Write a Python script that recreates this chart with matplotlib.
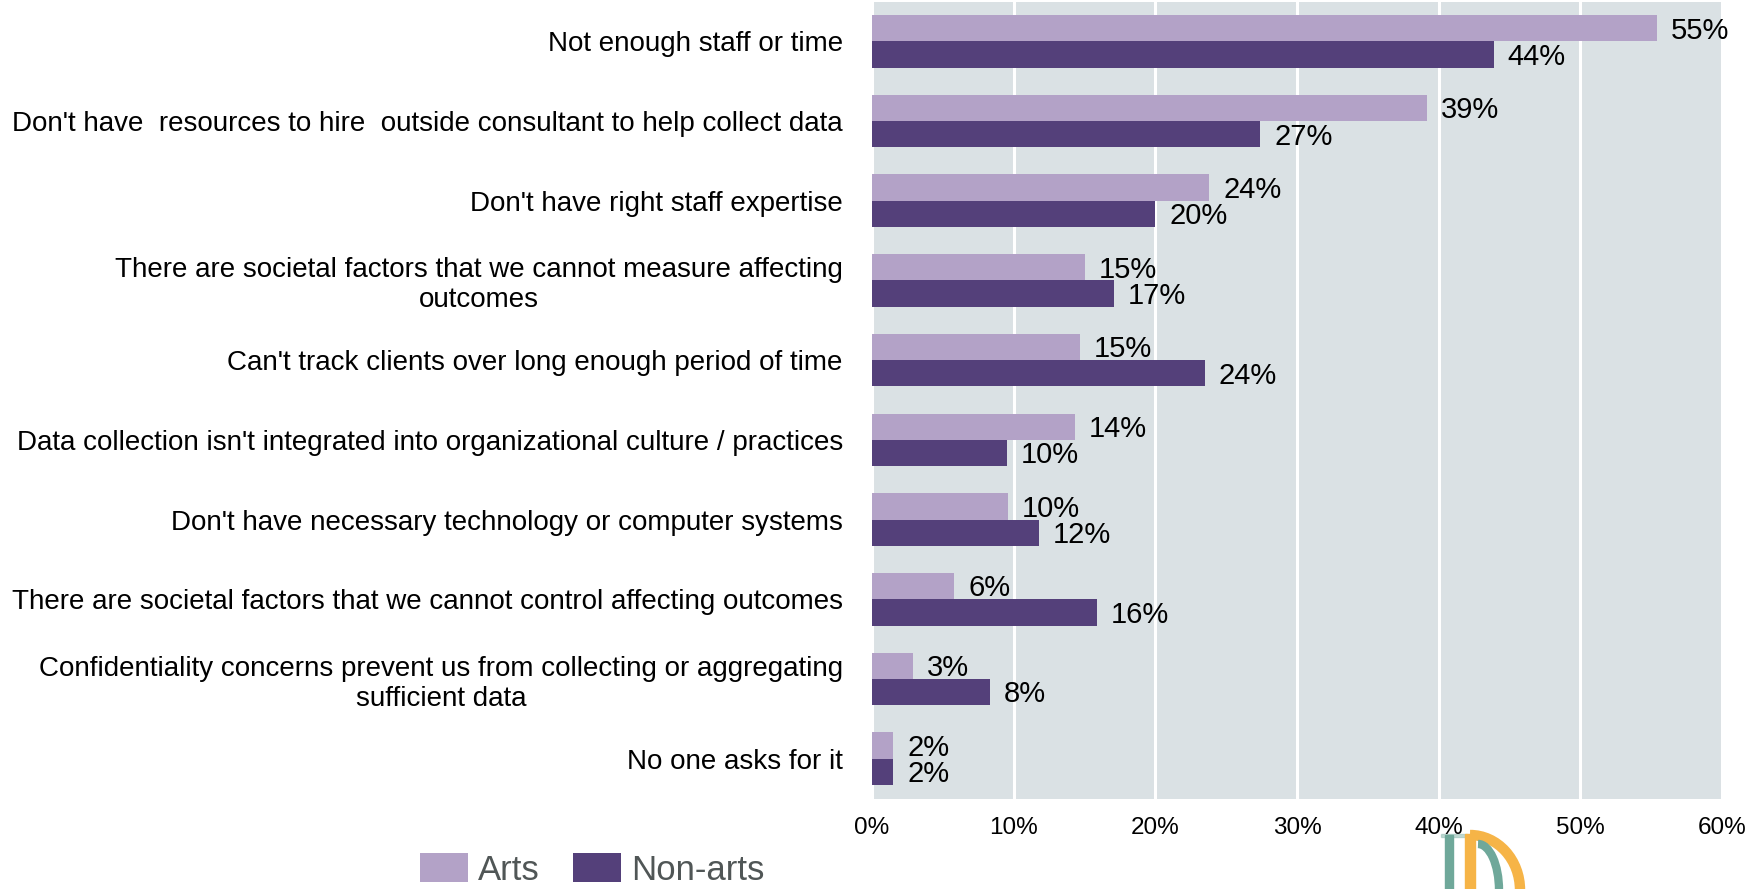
import matplotlib.pyplot as plt
import numpy as np
from matplotlib.patches import Patch, Arc, Rectangle

plt.rcParams['font.family'] = ['Liberation Sans', 'DejaVu Sans']

categories = [
    "Not enough staff or time",
    "Don't have  resources to hire  outside consultant to help collect data",
    "Don't have right staff expertise",
    "There are societal factors that we cannot measure affecting\noutcomes",
    "Can't track clients over long enough period of time",
    "Data collection isn't integrated into organizational culture / practices",
    "Don't have necessary technology or computer systems",
    "There are societal factors that we cannot control affecting outcomes",
    "Confidentiality concerns prevent us from collecting or aggregating\nsufficient data",
    "No one asks for it",
]
arts = [55.4, 39.2, 23.8, 15.0, 14.7, 14.3, 9.6, 5.8, 2.9, 1.5]
non_arts = [43.9, 27.4, 20.0, 17.1, 23.5, 9.5, 11.8, 15.9, 8.3, 1.5]
xticks = [0, 10, 20, 30, 40, 50, 60]

arts_color = '#b3a2c7'
non_color = '#54407a'

W, H = 1747, 889
fig = plt.figure(figsize=(W / 100, H / 100), dpi=100)
fig.set_facecolor('white')
ax = fig.add_axes([872 / W, 1 - 798.5 / H, (1722 - 872) / W, (798.5 - 1.5) / H])
ax.set_facecolor('#dae1e4')

y = np.arange(len(categories))
h = 0.33
ax.barh(y - h / 2, arts, height=h, color=arts_color, zorder=3)
ax.barh(y + h / 2, non_arts, height=h, color=non_color, zorder=3)

for yi, a, n in zip(y, arts, non_arts):
    ax.annotate(f"{a:.0f}%", (a, yi - h / 2 + 0.03), xytext=(10, 0), textcoords='offset points',
                va='center', ha='left', fontsize=21, color='black', zorder=4)
    ax.annotate(f"{n:.0f}%", (n, yi + h / 2 + 0.03), xytext=(10, 0), textcoords='offset points',
                va='center', ha='left', fontsize=21, color='black', zorder=4)

ax.set_xlim(0, 60)
ax.set_ylim(len(categories) - 0.5, -0.5)
ax.set_xticks(xticks)
ax.set_xticklabels([f"{t}%" for t in xticks], fontsize=17.5)
ax.set_yticks(y)
ax.set_yticklabels(categories, fontsize=20, multialignment='center')
ax.tick_params(axis='both', length=0)
ax.tick_params(axis='x', pad=13)
ax.tick_params(axis='y', pad=21)
ax.xaxis.grid(True, color='white', linewidth=2.2, zorder=1)
ax.set_axisbelow(True)
for s in ax.spines.values():
    s.set_visible(False)

handles = [Patch(facecolor=arts_color, label='Arts'),
           Patch(facecolor=non_color, label='Non-arts')]
fig.legend(handles=handles, loc='center left', bbox_to_anchor=(420 / W, 1 - 870 / H),
           ncol=2, frameon=False, fontsize=25, labelcolor='#505656',
           handlelength=1.38, handleheight=0.9, handletextpad=0.3,
           columnspacing=0.95, borderpad=0, borderaxespad=0)

# small logo under the axis
def fx(px):
    return px / W

def fy(py):
    return 1 - py / H

teal = '#6fa89a'
orange = '#f6b447'
fig.patches.append(Rectangle((fx(1445), fy(889)), fx(8), 54 / H, color=teal,
                             transform=fig.transFigure, zorder=-1))
fig.patches.append(Rectangle((fx(1441), fy(837)), fx(26), 3 / H, color=teal, alpha=0.4,
                             transform=fig.transFigure, zorder=-1))
fig.patches.append(Rectangle((fx(1465), fy(889)), fx(10), 55 / H, color=orange,
                             transform=fig.transFigure, zorder=-1))
fig.patches.append(Arc((fx(1470), fy(890)), fx(100), 110 / H, theta1=0, theta2=90,
                       color=orange, linewidth=7.5, transform=fig.transFigure, zorder=-1))
fig.patches.append(Arc((fx(1478), fy(890)), fx(42), 92 / H, theta1=0, theta2=90,
                       color=teal, linewidth=6, transform=fig.transFigure, zorder=-1))

fig.savefig('out.png', dpi=100, facecolor='white')
